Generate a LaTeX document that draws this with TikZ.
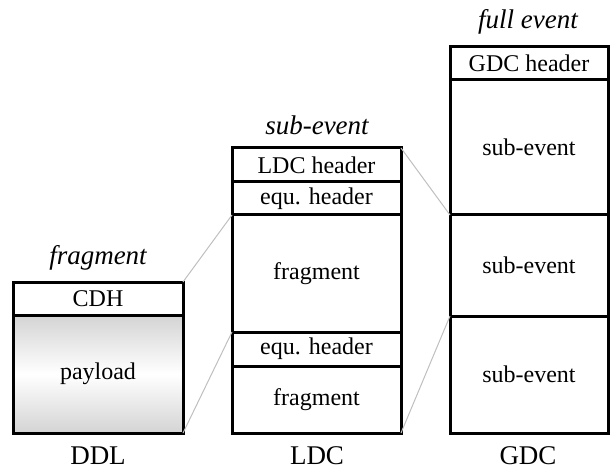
\documentclass[tikz,border=0pt]{standalone}
\usepackage{fontspec}
\setmainfont{Liberation Serif}
\begin{document}
\begin{tikzpicture}[x=0.5pt,y=-0.5pt,
  cell/.style={draw, line width=1.5pt, anchor=north west, inner sep=0pt, outer sep=0pt, font=\fontsize{12}{14}\selectfont},
  captext/.style={font=\fontsize{13.5}{15}\selectfont\itshape, inner sep=1pt},
  lab/.style={font=\fontsize{13.5}{15}\selectfont, inner sep=0pt},
  conn/.style={draw=black!25, line width=0.5pt}]
\useasboundingbox (0,0) rectangle (610,470);
% DDL
\node[cell, minimum width=85pt, minimum height=16.5pt] (cdh) at (13,282) {CDH};
\node[cell, minimum width=85pt, minimum height=59pt, top color=black!17, bottom color=black!17, middle color=white] (payload) at (13,315) {payload};
% LDC
\node[cell, minimum width=84.5pt, minimum height=17pt] (ldch) at (232,148) {LDC header};
\node[cell, minimum width=84.5pt, minimum height=16.5pt] (eq1) at (232,182) {equ. header};
\node[cell, minimum width=84.5pt, minimum height=58.5pt] (lf1) at (232,215) {fragment};
\node[cell, minimum width=84.5pt, minimum height=17pt] (eq2) at (232,332) {equ. header};
\node[cell, minimum width=84.5pt, minimum height=33.5pt] (lf2) at (232,366) {fragment};
% GDC
\node[cell, minimum width=79pt, minimum height=16.5pt] (gdch) at (450,47) {GDC header};
\node[cell, minimum width=79pt, minimum height=67.5pt] (se1) at (450,80) {sub-event};
\node[cell, minimum width=79pt, minimum height=50.5pt] (se2) at (450,215) {sub-event};
\node[cell, minimum width=79pt, minimum height=58.5pt] (se3) at (450,316) {sub-event};
% captions
\node[captext] (c1) at (98,258) {fragment};
\node[captext] (c2) at (317,125) {sub-event};
\node[captext] (c3) at (528,22) {full event};
\node[lab] (l1) at (98,456) {DDL};
\node[lab] (l2) at (317,456) {LDC};
\node[lab] (l3) at (528,456) {GDC};
% connectors
\draw[conn] (cdh.north east) -- (lf1.north west);
\draw[conn] (payload.south east) -- (lf1.south west);
\draw[conn] (ldch.north east) -- (se1.south west);
\draw[conn] (lf2.south east) -- (se2.south west);
\end{tikzpicture}
\end{document}
